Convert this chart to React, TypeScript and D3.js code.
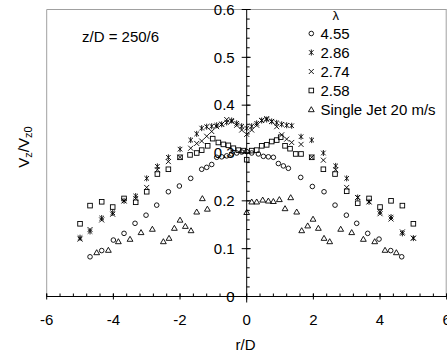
import React from "react";
import * as d3 from "d3";

const xTicks = [-6, -4, -2, 0, 2, 4, 6];
const yTicks = [0, 0.1, 0.2, 0.3, 0.4, 0.5, 0.6];
const yTickLabels = ["0", "0.1", "0.2", "0.3", "0.4", "0.5", "0.6"];
const legendLabels = ["4.55", "2.86", "2.74", "2.58", "Single Jet 20 m/s"];

// λ = 4.55 (circles)
const circR = [-4.7, -4.35, -4.0, -3.68, -3.35, -3.02, -2.7, -2.35, -2.02, -1.68, -1.35, -1.2, -1.05, -0.9, -0.75, -0.6, -0.45, -0.3, -0.15, 0, 0.15, 0.35, 0.5, 0.65, 0.8, 0.95, 1.1, 1.25, 1.62, 1.97, 2.32, 2.65, 2.99, 3.3, 3.63, 3.97, 4.32, 4.65];
const circV = [0.083, 0.096, 0.118, 0.132, 0.153, 0.17, 0.191, 0.219, 0.231, 0.247, 0.266, 0.27, 0.276, 0.291, 0.292, 0.294, 0.298, 0.3, 0.302, 0.303, 0.3, 0.298, 0.293, 0.292, 0.291, 0.278, 0.273, 0.268, 0.249, 0.23, 0.219, 0.191, 0.17, 0.153, 0.132, 0.12, 0.096, 0.083];

// λ = 2.86 (asterisks)
const starR = [-5, -4.7, -4.35, -4.02, -3.68, -3.33, -3.0, -2.68, -2.35, -2.0, -1.68, -1.5, -1.35, -1.2, -1.05, -0.9, -0.75, -0.6, -0.45, -0.3, -0.15, 0, 0.15, 0.3, 0.45, 0.6, 0.75, 0.9, 1.05, 1.2, 1.35, 1.63, 1.95, 2.3, 2.67, 3.0, 3.33, 3.67, 4.0, 4.33, 4.67, 5.0];
const starV = [0.123, 0.136, 0.164, 0.175, 0.2, 0.21, 0.247, 0.272, 0.291, 0.308, 0.327, 0.34, 0.352, 0.355, 0.356, 0.358, 0.36, 0.364, 0.368, 0.362, 0.356, 0.352, 0.356, 0.362, 0.368, 0.37, 0.366, 0.363, 0.36, 0.358, 0.357, 0.334, 0.327, 0.3, 0.273, 0.247, 0.207, 0.198, 0.177, 0.166, 0.132, 0.122];

// λ = 2.74 (crosses)
const crossR = [-5, -4.7, -4.35, -4.02, -3.68, -3.33, -3.0, -2.68, -2.35, -2.0, -1.68, -1.5, -1.35, -1.2, -1.05, -0.9, -0.75, -0.6, -0.45, -0.3, -0.15, 0, 0.15, 0.3, 0.45, 0.6, 0.75, 0.9, 1.05, 1.2, 1.35, 1.63, 1.95, 2.3, 2.67, 3.0, 3.33, 3.67, 4.0, 4.33, 4.67, 5.0];
const crossV = [0.12, 0.14, 0.16, 0.172, 0.2, 0.205, 0.228, 0.265, 0.282, 0.291, 0.31, 0.32, 0.325, 0.335, 0.345, 0.355, 0.36, 0.37, 0.366, 0.358, 0.348, 0.339, 0.348, 0.358, 0.368, 0.372, 0.366, 0.355, 0.338, 0.329, 0.322, 0.318, 0.291, 0.285, 0.265, 0.228, 0.207, 0.198, 0.173, 0.162, 0.135, 0.122];

// λ = 2.58 (squares)
const sqR = [-5, -4.7, -4.35, -4.02, -3.68, -3.33, -3.0, -2.68, -2.35, -2.0, -1.7, -1.5, -1.35, -1.17, -1.02, -0.85, -0.7, -0.55, -0.4, -0.25, -0.1, 0, 0.15, 0.3, 0.45, 0.6, 0.75, 0.9, 1.02, 1.15, 1.3, 1.47, 1.63, 1.95, 2.3, 2.65, 3.0, 3.33, 3.67, 4.0, 4.33, 4.67, 5.0];
const sqV = [0.152, 0.19, 0.198, 0.187, 0.205, 0.197, 0.219, 0.256, 0.266, 0.291, 0.296, 0.3, 0.306, 0.315, 0.33, 0.322, 0.318, 0.316, 0.31, 0.306, 0.305, 0.286, 0.305, 0.306, 0.315, 0.317, 0.324, 0.327, 0.333, 0.315, 0.309, 0.298, 0.298, 0.291, 0.266, 0.256, 0.22, 0.195, 0.205, 0.187, 0.2, 0.19, 0.152];

// Single jet 20 m/s (triangles)
const triR = [-4.5, -4.15, -3.85, -3.5, -3.17, -2.83, -2.5, -2.33, -2.17, -2.0, -1.84, -1.67, -1.5, -1.33, -1.18, 0, 0.15, 0.3, 0.48, 0.65, 0.8, 0.98, 1.15, 1.32, 1.5, 1.65, 1.83, 1.99, 2.15, 2.32, 2.49, 2.82, 3.15, 3.5, 3.84, 4.15, 4.49];
const triV = [0.092, 0.097, 0.115, 0.12, 0.134, 0.141, 0.115, 0.122, 0.143, 0.16, 0.147, 0.138, 0.177, 0.205, 0.183, 0.176, 0.198, 0.198, 0.202, 0.2, 0.199, 0.203, 0.184, 0.207, 0.177, 0.138, 0.148, 0.162, 0.143, 0.122, 0.115, 0.141, 0.134, 0.12, 0.115, 0.097, 0.092];

const W = 447;
const H = 356;
const L = 46.7, R = 446.7, T = 9.5, B = 296.5;

const x = d3.scaleLinear().domain([-6, 6]).range([L, R]);
const y = d3.scaleLinear().domain([0, 0.6]).range([B, T]);

const stroke = "#000";
const sw = 0.9;
const FONT = "'Liberation Sans', Arial, sans-serif";
const FS = 15;

function Marker({ kind, cx, cy }: { kind: string; cx: number; cy: number }) {
  if (kind === "circle") {
    return <circle cx={cx} cy={cy} r={2.3} fill="none" stroke={stroke} strokeWidth={sw} />;
  }
  if (kind === "square") {
    return <rect x={cx - 2.3} y={cy - 2.3} width={4.6} height={4.6} fill="none" stroke={stroke} strokeWidth={sw} />;
  }
  if (kind === "triangle") {
    const p = `${cx},${cy - 2.8} ${cx + 2.9},${cy + 2.2} ${cx - 2.9},${cy + 2.2}`;
    return <polygon points={p} fill="none" stroke={stroke} strokeWidth={sw} />;
  }
  if (kind === "cross") {
    const s = 2.5;
    return (
      <path d={`M${cx - s},${cy - s}L${cx + s},${cy + s}M${cx - s},${cy + s}L${cx + s},${cy - s}`} stroke={stroke} strokeWidth={sw} fill="none" />
    );
  }
  const s = 2.3;
  return (
    <path
      d={`M${cx - s},${cy - s}L${cx + s},${cy + s}M${cx - s},${cy + s}L${cx + s},${cy - s}M${cx},${cy - 3}L${cx},${cy + 3}`}
      stroke={stroke}
      strokeWidth={sw}
      fill="none"
    />
  );
}

const series = [
  { kind: "circle", r: circR, v: circV },
  { kind: "star", r: starR, v: starV },
  { kind: "cross", r: crossR, v: crossV },
  { kind: "square", r: sqR, v: sqV },
  { kind: "triangle", r: triR, v: triV },
];

export default function App() {
  const x0 = x(0);
  const xMinor = d3.range(-6, 6.001, 0.4);
  const yMinor = d3.range(0, 0.6001, 0.02);
  return (
    <svg width={W} height={H} style={{ position: "absolute", left: 0, top: 0, background: "#fff" }} fontFamily={FONT}>
      <rect x={0} y={0} width={W} height={H} fill="#fff" />
      <line x1={L} y1={T} x2={R} y2={T} stroke="#a0a0a0" strokeWidth={1} />
      <line x1={L} y1={T} x2={L} y2={B} stroke="#a0a0a0" strokeWidth={1} />
      <line x1={R - 0.5} y1={T} x2={R - 0.5} y2={B} stroke="#a0a0a0" strokeWidth={1} />

      <line x1={L} y1={B} x2={R} y2={B} stroke="#000" strokeWidth={1} />
      {xMinor.map((t, i) => (
        <line key={"xm" + i} x1={x(t)} x2={x(t)} y1={B} y2={B - 3} stroke="#000" strokeWidth={1} />
      ))}
      {xTicks.map((t) => (
        <g key={"xt" + t}>
          <line x1={x(t)} x2={x(t)} y1={B - 3} y2={B + 3} stroke="#000" strokeWidth={1} />
          <text x={x(t)} y={325} fontSize={FS} textAnchor="middle" fill="#000">
            {t}
          </text>
        </g>
      ))}

      <line x1={x0} y1={T} x2={x0} y2={B + 6} stroke="#000" strokeWidth={1} />
      {yMinor.map((t, i) => (
        <line key={"ym" + i} x1={x0} x2={x0 + 3} y1={y(t)} y2={y(t)} stroke="#000" strokeWidth={1} />
      ))}
      {yTicks.map((t, i) => (
        <g key={"yt" + i}>
          <line x1={x0 - 5} x2={x0 + 4} y1={y(t)} y2={y(t)} stroke="#000" strokeWidth={1} />
          <text x={x0 - 12} y={y(t)} dy="0.35em" fontSize={FS} textAnchor="end" fill="#000">
            {yTickLabels[i]}
          </text>
        </g>
      ))}

      {series.map((s) => (
        <g key={s.kind}>
          {s.r.map((rv, i) => (
            <Marker key={i} kind={s.kind} cx={x(rv)} cy={y(s.v[i])} />
          ))}
        </g>
      ))}

      <text x={82} y={41.5} fontSize={FS} fill="#000">z/D = 250/6</text>

      <text x={335.7} y={20} fontSize={13} textAnchor="middle" fill="#000">λ</text>
      {series.map((s, i) => {
        const cy = 33.5 + i * 19;
        return (
          <g key={"lg" + i}>
            <Marker kind={s.kind} cx={311.3} cy={cy} />
            <text x={320.5} y={cy} dy="0.35em" fontSize={FS} fill="#000">
              {legendLabels[i]}
            </text>
          </g>
        );
      })}

      <text x={245.5} y={350} fontSize={FS} textAnchor="middle" fill="#000">r/D</text>
      <text transform={`translate(28.5,147) rotate(-90)`} fontSize={FS} textAnchor="middle" fill="#000">
        V<tspan fontSize={11} dy={3}>z</tspan>
        <tspan dy={-3}>/V</tspan>
        <tspan fontSize={11} dy={3}>z0</tspan>
      </text>
    </svg>
  );
}
